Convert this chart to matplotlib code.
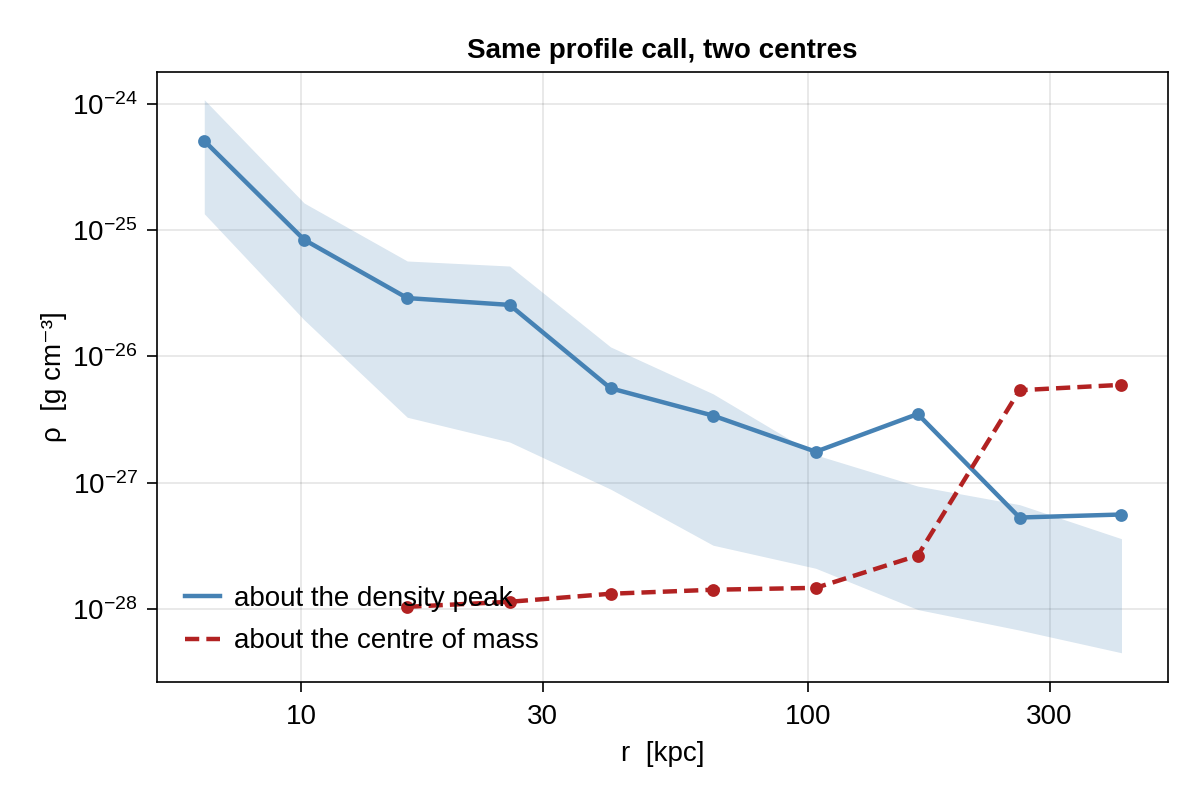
import matplotlib
matplotlib.use("Agg")
import matplotlib.pyplot as plt
from matplotlib.ticker import FixedLocator, FixedFormatter, NullLocator

# radial bin centres [kpc]
r_kpc = [6.44, 10.14, 16.2, 25.8, 40.8, 65.0, 103.7, 164.8, 261.8, 416.0]

# density about the density peak [g cm^-3]
rho_peak = [5.1e-25, 8.4e-26, 2.9e-26, 2.56e-26, 5.6e-27, 3.4e-27,
            1.76e-27, 3.5e-27, 5.3e-28, 5.6e-28]
band_hi = [1.08e-24, 1.64e-25, 5.7e-26, 5.2e-26, 1.19e-26, 5.06e-27,
           1.66e-27, 9.4e-28, 6.7e-28, 3.6e-28]
band_lo = [1.35e-25, 1.95e-26, 3.3e-27, 2.1e-27, 8.9e-28, 3.2e-28,
           2.1e-28, 9.9e-29, 6.8e-29, 4.5e-29]

# density about the centre of mass (first two bins empty)
r_com = r_kpc[2:]
rho_com = [1.04e-28, 1.14e-28, 1.32e-28, 1.42e-28, 1.47e-28,
           2.65e-28, 5.4e-27, 5.96e-27]

x_ticks = [10, 30, 100, 300]
y_ticks = [1e-28, 1e-27, 1e-26, 1e-25, 1e-24]
y_tick_labels = [r"$10^{-28}$", r"$10^{-27}$", r"$10^{-26}$", r"$10^{-25}$", r"$10^{-24}$"]

BLUE = "#4682b4"
RED = "#b22222"

plt.rcParams["font.family"] = ["Liberation Sans", "DejaVu Sans"]
plt.rcParams["mathtext.fontset"] = "custom"
plt.rcParams["mathtext.rm"] = "Liberation Sans"
plt.rcParams["mathtext.it"] = "Liberation Sans:italic"

fig = plt.figure(figsize=(6, 4), dpi=200)
ax = fig.add_axes([0.131, 0.1475, 0.842, 0.7625])

ax.fill_between(r_kpc, band_lo, band_hi, color=BLUE, alpha=0.2, linewidth=0)
ax.plot(r_kpc, rho_peak, color=BLUE, lw=1.6, marker="o", ms=3.6,
        label="about the density peak")
ax.plot(r_com, rho_com, color=RED, lw=1.6, ls=(0, (3.2, 1.6)), marker="o", ms=3.6,
        label="about the centre of mass")

ax.set_xscale("log")
ax.set_yscale("log")
ax.set_xlim(5.2, 513)
ax.set_ylim(2.64e-29, 1.79e-24)

ax.xaxis.set_major_locator(FixedLocator(x_ticks))
ax.xaxis.set_major_formatter(FixedFormatter([str(t) for t in x_ticks]))
ax.xaxis.set_minor_locator(NullLocator())
ax.yaxis.set_major_locator(FixedLocator(y_ticks))
ax.yaxis.set_major_formatter(FixedFormatter(y_tick_labels))
ax.yaxis.set_minor_locator(NullLocator())

ax.grid(True, color="black", alpha=0.1, lw=0.6)
ax.set_axisbelow(True)
ax.tick_params(direction="out", length=3.5, width=0.6, labelsize=10, pad=3.5)
ax.tick_params(axis="x", pad=4.5)
for s in ax.spines.values():
    s.set_linewidth(0.6)

ax.set_xlabel("r  [kpc]", fontsize=10, labelpad=4)
ax.set_ylabel("ρ  [g cm⁻³]", fontsize=10, labelpad=2)
ax.set_title("Same profile call, two centres", fontsize=10, fontweight="bold", pad=5)

leg = ax.legend(loc="lower left", frameon=False, fontsize=10, handlelength=1.25,
                handletextpad=0.5, borderaxespad=0.6, labelspacing=0.6)
for h in leg.legend_handles:
    h.set_marker("")

fig.savefig("out.png", dpi=200)
